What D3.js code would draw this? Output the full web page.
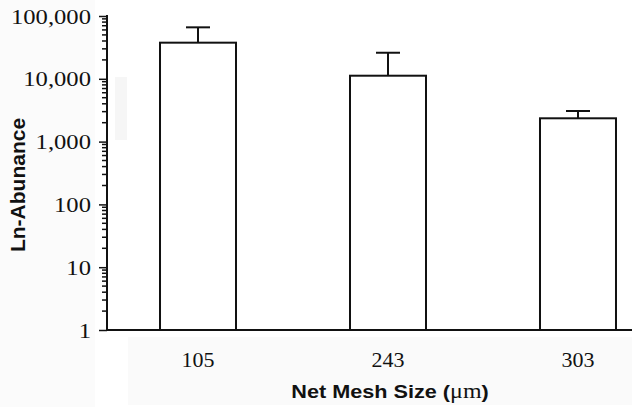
<!DOCTYPE html>
<html>
<head>
<meta charset="utf-8">
<script src="https://cdn.jsdelivr.net/npm/d3@7"></script>
<style>
  body { margin: 0; background: #fff; }
  svg { display: block; }
</style>
</head>
<body>
<div id="chart"></div>
<script>
// data
var meshSizes = ["105", "243", "303"];
var abundance = [37600, 11200, 2350];
var errorTop = [66000, 26000, 3070];
var yTicks = [1, 10, 100, 1000, 10000, 100000];

var width = 632;
var height = 407;

var svg = d3.select("#chart").append("svg")
    .attr("width", width)
    .attr("height", height);

// faint scan tint in the original
svg.append("rect").attr("x", 0).attr("y", 0).attr("width", 95).attr("height", height).attr("fill", "#fbfbfb");
svg.append("rect").attr("x", 115).attr("y", 77).attr("width", 12).attr("height", 63).attr("fill", "#f6f6f6");
svg.append("rect").attr("x", 128).attr("y", 337).attr("width", 504).attr("height", 68).attr("fill", "#fafafa");

var x = d3.scaleBand()
    .domain(meshSizes)
    .range([107, 669])
    .paddingInner(0.6)
    .paddingOuter(0.279);

var y = d3.scaleLog()
    .domain([1, 100000])
    .range([330, 16]);

// minor ticks
var minor = [];
for (var p = 0; p < 5; p++) {
  for (var k = 2; k <= 9; k++) minor.push(k * Math.pow(10, p));
}
svg.append("g")
    .attr("stroke", "#111")
    .attr("stroke-width", 1.5)
  .selectAll("line")
  .data(minor)
  .join("line")
    .attr("x1", 102).attr("x2", 107)
    .attr("y1", d => y(d)).attr("y2", d => y(d));

// y axis
var yAxis = d3.axisLeft(y)
    .tickValues(yTicks)
    .tickFormat(d3.format(","))
    .tickSize(8)
    .tickPadding(8);

var gy = svg.append("g")
    .attr("transform", "translate(107,0)")
    .call(yAxis);
gy.select(".domain").remove();
gy.selectAll(".tick line").attr("stroke", "#111").attr("stroke-width", 1.5);
gy.selectAll(".tick text")
    .attr("x", null)
    .attr("transform", "translate(-16,0) scale(1.12,1)")
    .attr("fill", "#111")
    .style("font-family", "'Liberation Serif', 'Times New Roman', serif")
    .style("font-size", "22px");

svg.append("line")
    .attr("x1", 107).attr("x2", 107)
    .attr("y1", 15).attr("y2", 331)
    .attr("stroke", "#111").attr("stroke-width", 2);

// bars
svg.append("g")
  .selectAll("rect")
  .data(meshSizes)
  .join("rect")
    .attr("x", d => x(d))
    .attr("y", (d, i) => y(abundance[i]))
    .attr("width", x.bandwidth())
    .attr("height", (d, i) => y(1) - y(abundance[i]))
    .attr("fill", "#fff")
    .attr("stroke", "#111")
    .attr("stroke-width", 2);

// error bars
var err = svg.append("g")
    .attr("stroke", "#111")
    .attr("stroke-width", 2)
  .selectAll("g")
  .data(meshSizes)
  .join("g");
err.append("line")
    .attr("x1", d => x(d) + x.bandwidth() / 2)
    .attr("x2", d => x(d) + x.bandwidth() / 2)
    .attr("y1", (d, i) => y(abundance[i]))
    .attr("y2", (d, i) => y(errorTop[i]));
err.append("line")
    .attr("x1", d => x(d) + x.bandwidth() / 2 - 12)
    .attr("x2", d => x(d) + x.bandwidth() / 2 + 12)
    .attr("y1", (d, i) => y(errorTop[i]))
    .attr("y2", (d, i) => y(errorTop[i]));

// x axis
var xAxis = d3.axisBottom(x).tickSize(0).tickPadding(21);
var gx = svg.append("g")
    .attr("transform", "translate(0,330)")
    .call(xAxis);
gx.select(".domain").remove();
gx.selectAll(".tick text")
    .attr("fill", "#111")
    .style("font-family", "'Liberation Serif', 'Times New Roman', serif")
    .style("font-size", "22px");

svg.append("line")
    .attr("x1", 106).attr("x2", width)
    .attr("y1", 330).attr("y2", 330)
    .attr("stroke", "#111").attr("stroke-width", 2);

// titles
var xt = svg.append("text")
    .attr("transform", "translate(390,398) scale(1.14,1)")
    .attr("text-anchor", "middle")
    .attr("fill", "#111")
    .style("font-family", "'Liberation Sans', Arial, sans-serif")
    .style("font-weight", "bold")
    .style("font-size", "19px");
xt.append("tspan").text("Net Mesh Size (");
xt.append("tspan")
    .style("font-family", "'Liberation Serif', serif")
    .style("font-weight", "normal")
    .style("font-size", "21px")
    .text("\u03bcm");
xt.append("tspan").text(")");

svg.append("text")
    .attr("transform", "translate(25,185) rotate(-90)")
    .attr("text-anchor", "middle")
    .attr("fill", "#111")
    .style("font-family", "'Liberation Sans', Arial, sans-serif")
    .style("font-weight", "bold")
    .style("font-size", "21px")
    .text("Ln-Abunance");
</script>
</body>
</html>
